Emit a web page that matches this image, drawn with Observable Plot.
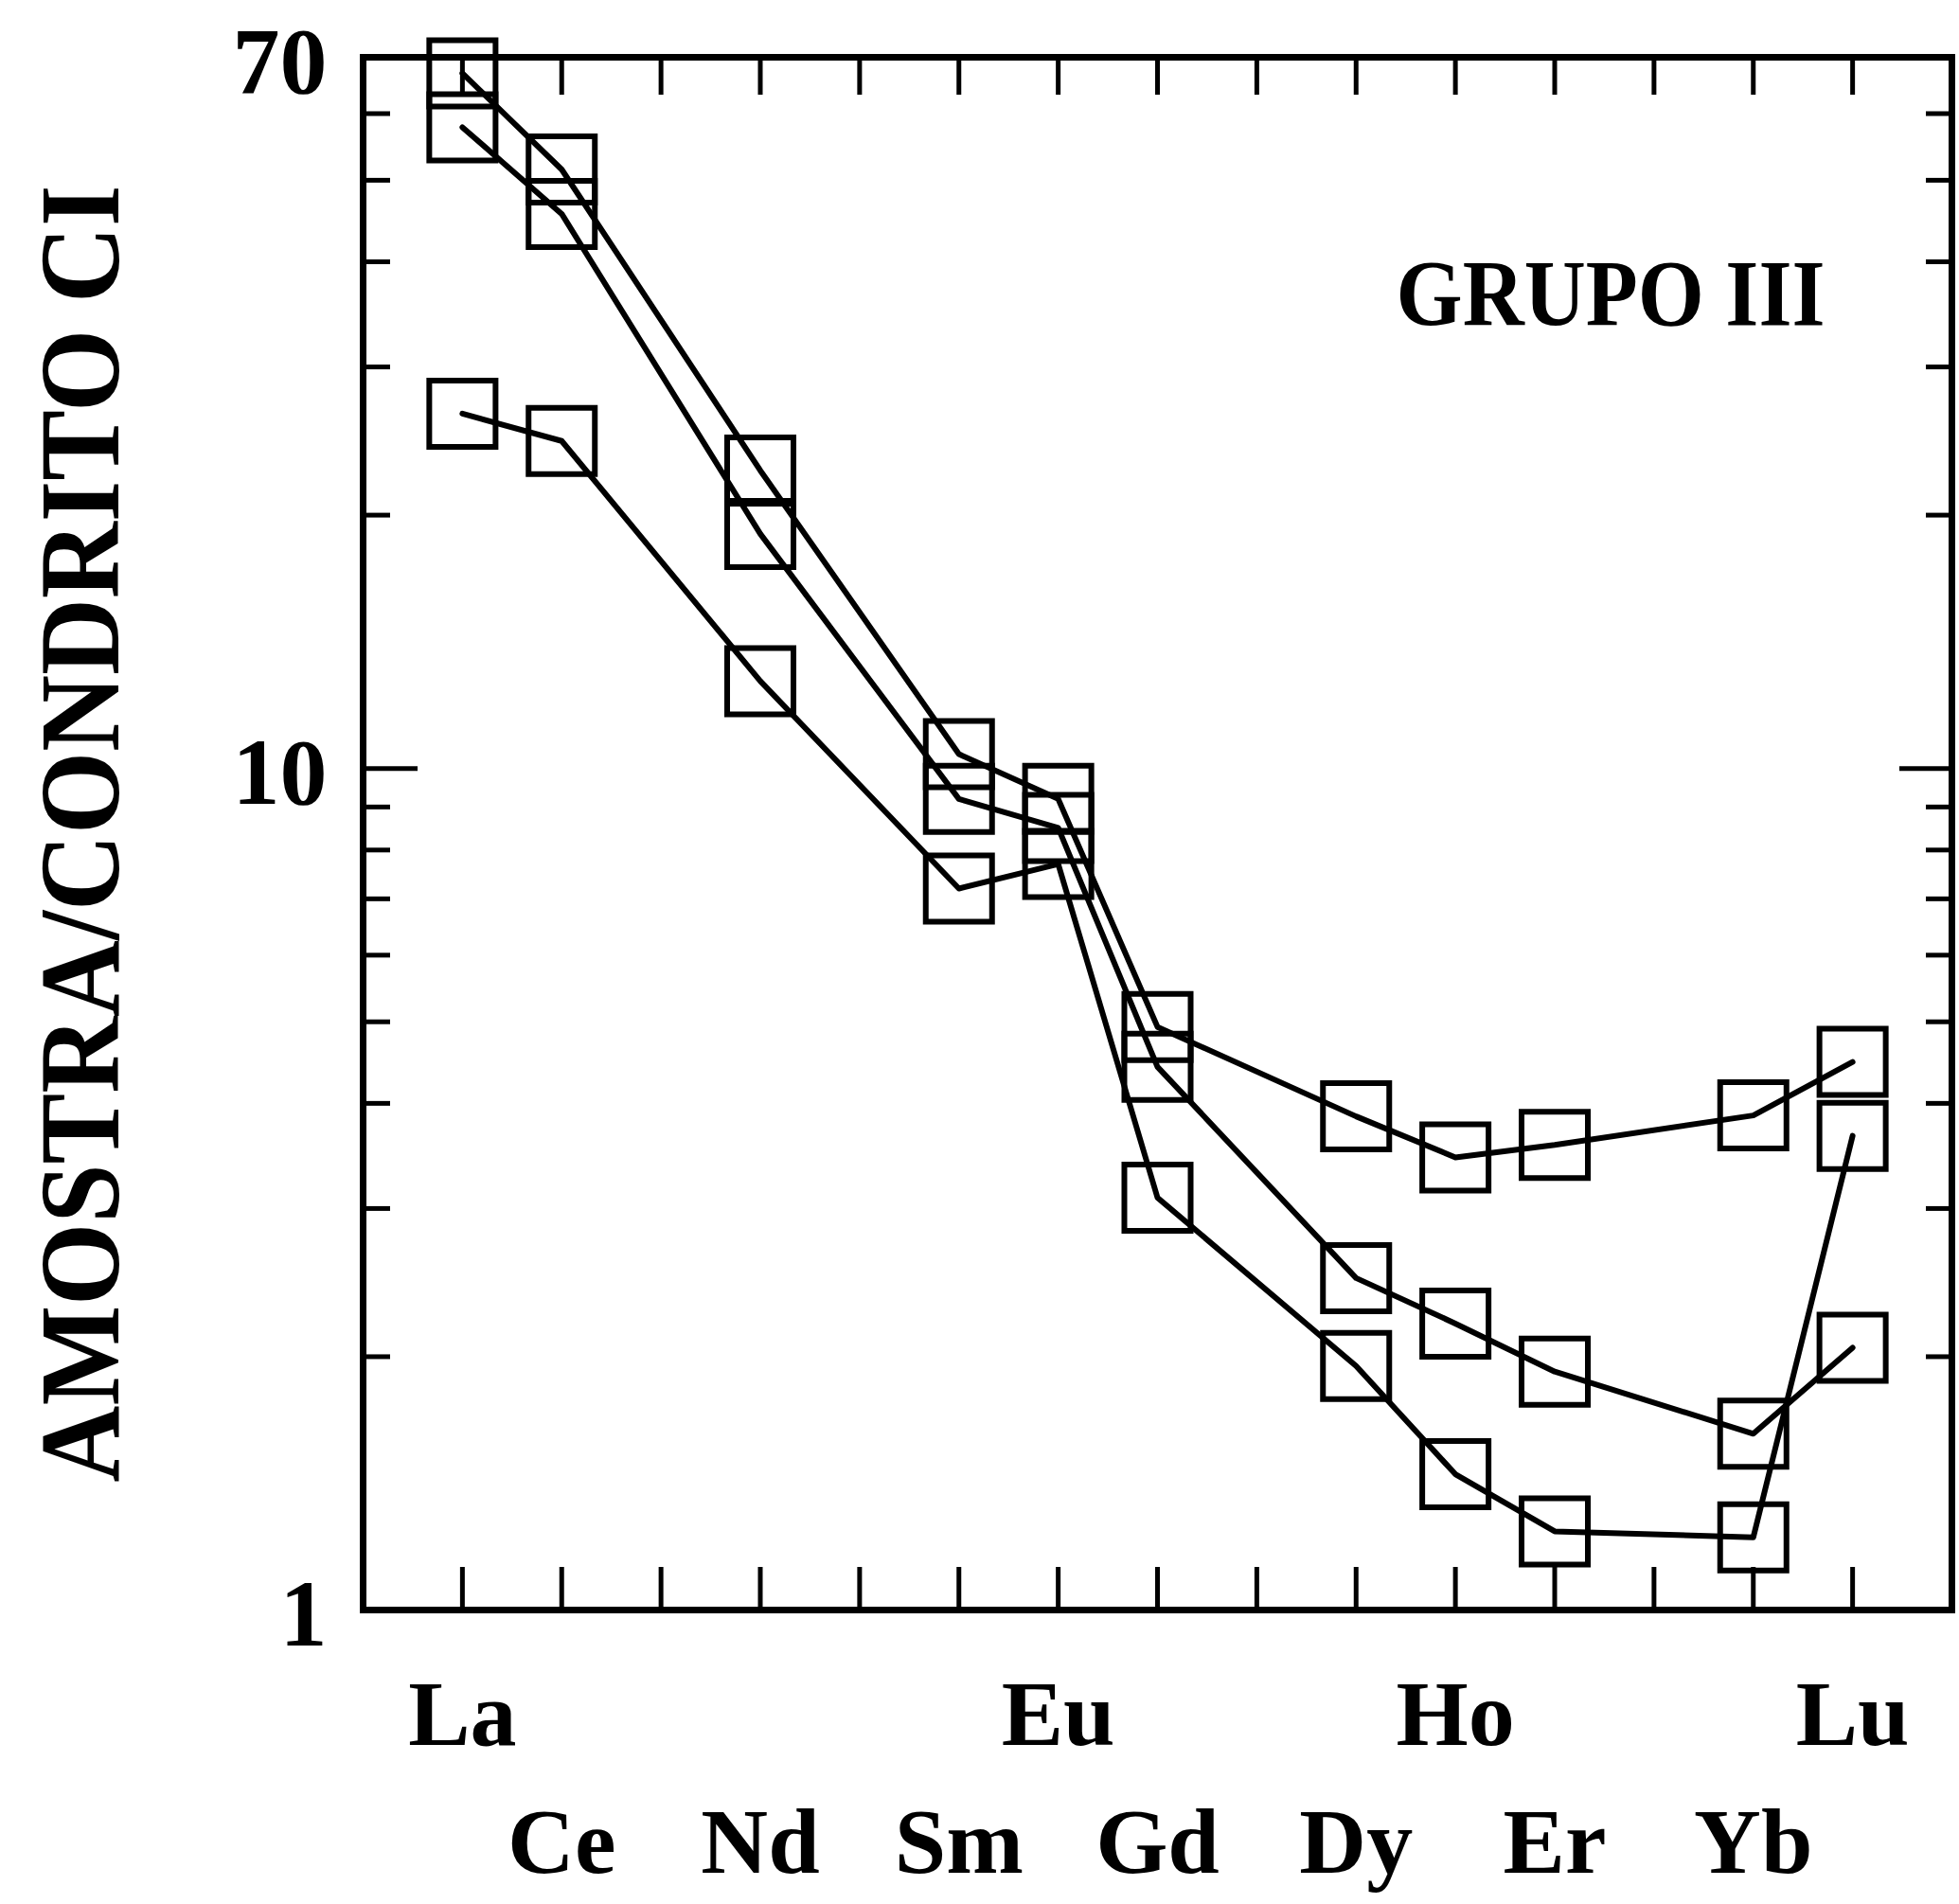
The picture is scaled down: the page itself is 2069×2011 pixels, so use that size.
<!DOCTYPE html>
<html><head><meta charset="utf-8">
<script src="https://cdn.jsdelivr.net/npm/d3@7"></script>
<script src="https://cdn.jsdelivr.net/npm/@observablehq/plot@0.6"></script>
<style>html,body{margin:0;padding:0;background:#fff;} svg{display:block}</style>
</head><body><div id="chart"></div>
<script>
// Rare earth elements along the x axis (one tick each)
const elements = ["La","Ce","Pr","Nd","Pm","Sm","Eu","Gd","Tb","Dy","Ho","Er","Tm","Yb","Lu"];
// Elements that were analysed
const sampled = ["La","Ce","Nd","Sm","Eu","Gd","Dy","Ho","Er","Yb","Lu"];
// Sample / chondrite CI values
const serieA = [67.0, 51.5, 22.6, 10.4, 9.2, 4.93, 3.86, 3.45, 3.57, 3.87, 4.48];
const serieB = [57.8, 45.6, 19.0, 9.2, 8.5, 4.42, 2.48, 2.19, 1.92, 1.62, 2.05];
const serieC = [26.4, 24.5, 12.7, 7.2, 7.7, 3.09, 1.95, 1.45, 1.24, 1.22, 3.66];
// Axis texts
const labelsRow1 = ["La","Eu","Ho","Lu"];
const labelsRow2 = ["Ce","Nd","Sm","Gd","Dy","Er","Yb"];
const yTickLabels = [1, 10, 70];
const yMinorTicks = [2,3,4,5,6,7,8,9,20,30,40,50,60];
const yMajorTicks = [10];
const groupTitle = "GRUPO III";
const yTitle = "AMOSTRA/CONDRITO CI";

const W = 2069, H = 2011;
const mL = 383, mR = 8, mT = 60, mB = 311;
const innerW = W - mL - mR, innerH = H - mT - mB;

const series = {A: serieA, B: serieB, C: serieC};
const data = [];
for (const [name, vals] of Object.entries(series)) {
  sampled.forEach((el, i) => data.push({serie: name, el, idx: elements.indexOf(el), v: vals[i]}));
}
const idx = elements.map((d, i) => i);
const font = {fontFamily: "Liberation Serif, Times New Roman, serif", fontWeight: "bold", fill: "black"};

const chart = Plot.plot({
  width: W, height: H,
  marginLeft: mL, marginRight: mR, marginTop: mT, marginBottom: mB,
  x: {type: "linear", domain: [-1, 15], axis: null},
  y: {type: "log", domain: [1, 70], axis: null},
  marks: [
    // ticks on the four sides, pointing inward
    Plot.tickX(idx, {x: d => d, insetTop: innerH - 45, stroke: "black", strokeWidth: 5}),
    Plot.tickX(idx, {x: d => d, insetBottom: innerH - 40, stroke: "black", strokeWidth: 5}),
    Plot.tickY(yMinorTicks, {y: d => d, insetRight: innerW - 29, stroke: "black", strokeWidth: 5}),
    Plot.tickY(yMajorTicks, {y: d => d, insetRight: innerW - 58, stroke: "black", strokeWidth: 5}),
    Plot.tickY(yMinorTicks, {y: d => d, insetLeft: innerW - 27, stroke: "black", strokeWidth: 5}),
    Plot.tickY(yMajorTicks, {y: d => d, insetLeft: innerW - 55, stroke: "black", strokeWidth: 5}),
    Plot.frame({stroke: "black", strokeWidth: 7}),
    Plot.line(data, {x: "idx", y: "v", z: "serie", stroke: "black", strokeWidth: 6}),
    Plot.dot(data, {x: "idx", y: "v", symbol: "square", r: 39.5, stroke: "black", strokeWidth: 6, fill: "none"}),
    Plot.text(yTickLabels, {y: d => d, text: d => String(d), frameAnchor: "left", lineAnchor: "middle", dx: -38, dy: 5, textAnchor: "end", fontSize: 100, ...font}),
    Plot.text(labelsRow1, {x: d => elements.indexOf(d), text: d => d, frameAnchor: "bottom", lineAnchor: "middle", dy: 111, fontSize: 98, ...font}),
    Plot.text(labelsRow2, {x: d => elements.indexOf(d), text: d => d, frameAnchor: "bottom", lineAnchor: "middle", dy: 246, fontSize: 98, ...font}),
    Plot.text([groupTitle], {text: d => d, frameAnchor: "top-right", lineAnchor: "middle", textAnchor: "end", dx: -134, dy: 250, fontSize: 100, ...font}),
    Plot.text([yTitle], {text: d => d, frameAnchor: "left", lineAnchor: "middle", textAnchor: "middle", dx: -297, rotate: -90, fontSize: 121, ...font})
  ]
});
document.getElementById("chart").appendChild(chart);
// fit the condensed lettering of the original by a horizontal scale along the text
function condense(t, target) {
  const len = t.getComputedTextLength();
  if (!len) return;
  const s = target / len;
  const tr = t.getAttribute("transform") || "";
  t.setAttribute("transform", (tr + ` scale(${s},1)`).trim());
}
chart.querySelectorAll("text").forEach(t => {
  if (t.textContent === yTitle) condense(t, 1370);
  if (t.textContent === groupTitle) condense(t, 453);
});
</script>
</body></html>
